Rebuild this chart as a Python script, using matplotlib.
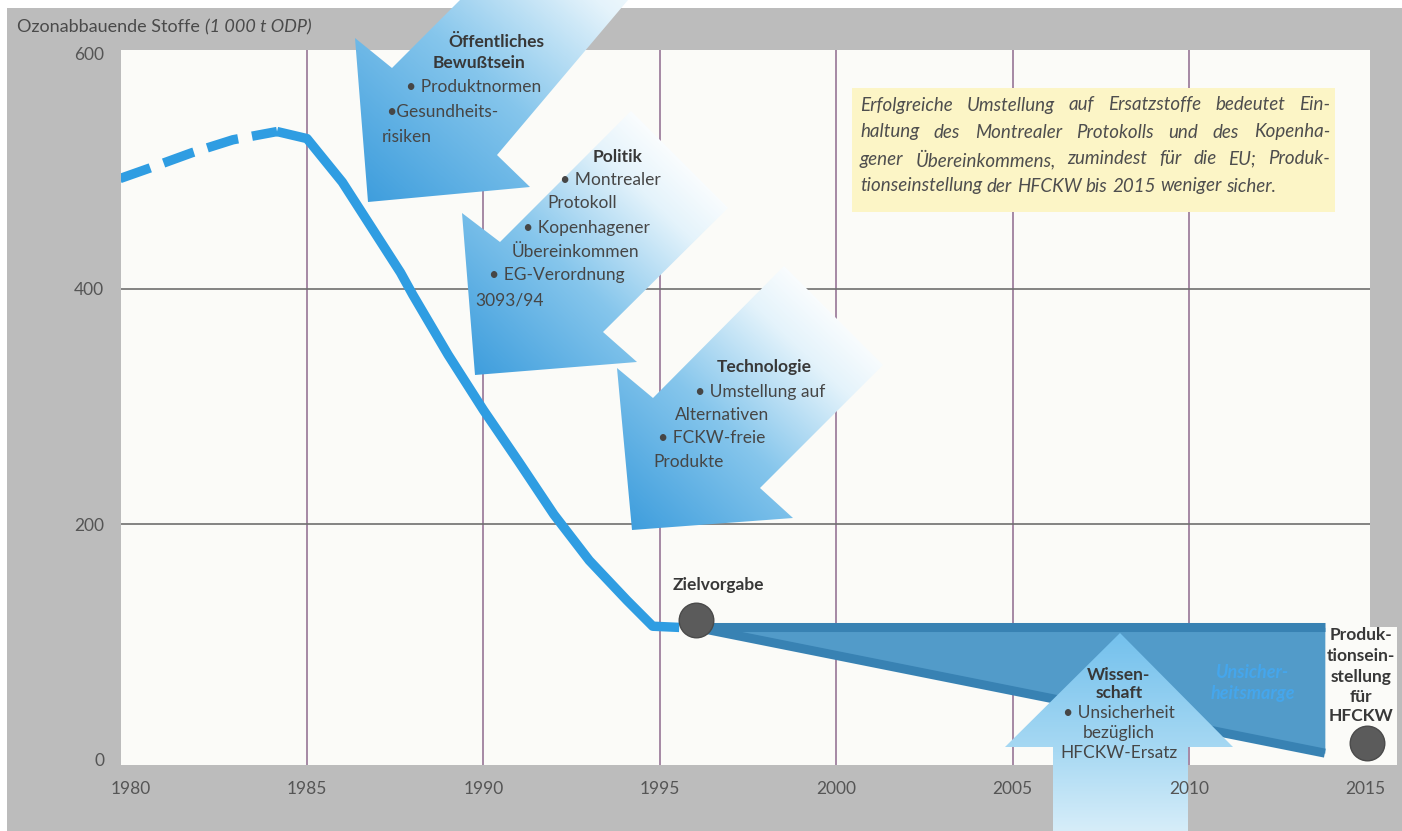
import numpy as np
import matplotlib
matplotlib.use('Agg')
import matplotlib.pyplot as plt
from matplotlib.patches import Polygon, Rectangle
from matplotlib.colors import LinearSegmentedColormap
from matplotlib.transforms import blended_transform_factory

# ---------------- data ----------------
dash_years = [1979.70, 1980.55, 1981.74, 1982.90, 1984.15]
dash_values = [494, 503, 516, 527, 534]
solid_years = [1984.15, 1985.0, 1986.0, 1987.65, 1988.0, 1989.0, 1990.0,
               1991.0, 1992.0, 1993.0, 1994.07, 1994.8, 1995.55]
solid_values = [534, 528, 491, 414, 395, 344, 297, 253, 208, 169, 135, 113, 112]
band_years = [1996.03, 2013.85]
band_upper = [112, 112]
band_lower = [112, 5]
target_year, target_value = 1996.03, 118
phaseout_year, phaseout_value = 2015.04, 14
x_ticks = [1980, 1985, 1990, 1995, 2000, 2005, 2010, 2015]
y_ticks = [0, 200, 400, 600]
v_grid = [1985, 1990, 1995, 2000, 2005, 2010]
h_grid = [200, 400]

FONT = ['Lato', 'DejaVu Sans']
plt.rcParams['font.family'] = FONT

W, H = 1402, 831
fig = plt.figure(figsize=(W / 100, H / 100), dpi=100)
fig.patch.set_facecolor('white')

# background frame (pixel coordinates)
bg = fig.add_axes([0, 0, 1, 1], zorder=0)
bg.set_xlim(0, W); bg.set_ylim(H, 0); bg.axis('off')
bg.add_patch(Rectangle((7, 8), W - 7, H - 8, facecolor='#bcbcbc', edgecolor='none'))
bg.add_patch(Rectangle((1368, 627), 29, 138, facecolor='#fbfbf8', edgecolor='none'))

# main data axes
ax = fig.add_axes([121 / W, (H - 765) / H, (1370 - 121) / W, (765 - 50) / H], zorder=1)
ax.set_facecolor('#fbfbf8')
ax.set_xlim(1979.728, 2015.13)
ax.set_ylim(-5.1, 603.4)
for s in ax.spines.values():
    s.set_visible(False)
ax.set_xticks(x_ticks)
ax.set_xticklabels([])
ax.set_yticks(y_ticks)
ax.set_yticklabels([str(v) for v in y_ticks])
ax.tick_params(axis='x', length=0)
ax.tick_params(axis='y', length=0, pad=12, labelsize=12.5, labelcolor='#555555')

for yr in v_grid:
    ax.axvline(yr, color='#8e6a8e', lw=1.1, zorder=1)
for v in h_grid:
    ax.axhline(v, color='#6f6f6f', lw=1.2, zorder=1)

CURVE = '#2f9de2'
ax.plot(dash_years, dash_values, color=CURVE, lw=6.8, linestyle=(0, (3.4, 1.5)),
        dash_capstyle='butt', zorder=3)
ax.plot(solid_years, solid_values, color=CURVE, lw=6.8, solid_joinstyle='round',
        solid_capstyle='butt', zorder=3)

# uncertainty band
ax.fill_between(band_years, band_lower, band_upper, color='#529bc9', lw=0, zorder=2)
ax.plot(band_years, band_upper, color='#3882b3', lw=6.5, solid_capstyle='butt', zorder=2.5)
ax.plot(band_years, band_lower, color='#3882b3', lw=6.5, solid_capstyle='butt', zorder=2.5)

ax.scatter([target_year], [target_value], s=620, color='#5b5b5b', edgecolor='#4a4a4a',
           lw=1, zorder=4)
ax.scatter([phaseout_year], [phaseout_value], s=620, color='#5b5b5b', edgecolor='#4a4a4a',
           lw=1, zorder=4, clip_on=False)

# foreground overlay (pixel coordinates)
fg = fig.add_axes([0, 0, 1, 1], zorder=2)
fg.set_xlim(0, W); fg.set_ylim(H, 0); fg.axis('off')
fg.patch.set_alpha(0)


def grad_arrow(verts, p0, p1, stops):
    verts = np.array(verts, float)
    xmin, ymin = verts.min(0)
    xmax, ymax = verts.max(0)
    xs = np.arange(xmin, xmax + 1)
    ys = np.arange(ymin, ymax + 1)
    X, Y = np.meshgrid(xs, ys)
    d = np.array(p1, float) - np.array(p0, float)
    t = ((X - p0[0]) * d[0] + (Y - p0[1]) * d[1]) / (d @ d)
    t = np.clip(t, 0, 1)
    cmap = LinearSegmentedColormap.from_list('g', stops)
    im = fg.imshow(cmap(t), extent=(xmin, xmax, ymax, ymin), origin='upper',
                   interpolation='bilinear', aspect='auto', zorder=2)
    poly = Polygon(verts, closed=True, transform=fg.transData, facecolor='none',
                   edgecolor='none')
    fg.add_patch(poly)
    im.set_clip_path(poly)


diag_stops = [(0, '#3f9edd'), (0.45, '#86c6ec'), (0.8, '#e4f3fb'), (1, '#ffffff')]
grad_arrow([(460, 0), (392, 68), (355, 38), (368, 202), (530, 187), (497, 155), (628, 0)],
           (368, 202), (620, -80), diag_stops)
grad_arrow([(631, 111), (500, 242), (462, 213), (475, 375), (637, 362), (603, 332), (728, 208)],
           (475, 375), (690, 150), diag_stops)
grad_arrow([(784, 266), (653, 398), (617, 368), (632, 530), (793, 518), (760, 488), (883, 365)],
           (632, 530), (845, 305), diag_stops)
grad_arrow([(1053, 831), (1053, 747), (1005, 747), (1120, 633), (1233, 747), (1188, 747), (1188, 831)],
           (1120, 633), (1120, 831), [(0, '#74c1ed'), (0.6, '#a8d9f3'), (1, '#d6edf9')])

fg.set_xlim(0, W); fg.set_ylim(H, 0)

# x tick labels drawn above the arrows, positioned through the data axis scale
xlab_tr = blended_transform_factory(ax.transData, fg.transData)
for yr in x_ticks:
    fg.text(yr, 789, str(yr), transform=xlab_tr, ha='center', va='center',
            fontsize=12.5, color='#555555', zorder=6)

TXT = '#464646'
TB = '#383838'
FS = 12.5


def t(x, y, s, bold=False, ha='left', **kw):
    return fg.text(x, y, s, ha=ha, va='center', fontsize=kw.pop('fontsize', FS),
                   fontweight='bold' if bold else 'normal',
                   color=kw.pop('color', TB if bold else TXT), zorder=5, **kw)


renderer = fig.canvas.get_renderer()

# axis title
t1 = t(17, 27, 'Ozonabbauende Stoffe', color='#4a4a4a', fontsize=13)
w1 = t1.get_window_extent(renderer).width
t(17 + w1 + 5, 27, '(1 000 t ODP)', color='#4a4a4a', style='italic', fontsize=13)

# arrow 1
t(448, 42, 'Öffentliches', bold=True)
t(433, 63, 'Bewußtsein', bold=True)
t(406, 87, '• Produktnormen')
t(386, 112, '•Gesundheits-')
t(382, 137, 'risiken')
# arrow 2
t(593, 157, 'Politik', bold=True)
t(560, 180, '• Montrealer')
t(547, 203, 'Protokoll')
t(523, 228, '• Kopenhagener')
t(512, 252, 'Übereinkommen')
t(489, 275, '• EG-Verordnung')
t(475, 300, '3093/94')
# arrow 3
t(717, 367, 'Technologie', bold=True)
t(695, 392, '• Umstellung auf')
t(675, 415, 'Alternativen')
t(658, 438, '• FCKW-freie')
t(653, 462, 'Produkte')
# arrow 4
t(1119, 675, 'Wissen-', bold=True, ha='center')
t(1119, 693, 'schaft', bold=True, ha='center')
t(1119, 713, '• Unsicherheit', ha='center')
t(1119, 733, 'bezüglich', ha='center')
t(1119, 753, 'HFCKW-Ersatz', ha='center')

t(718, 585, 'Zielvorgabe', bold=True, ha='center')
for yy, s in zip([635, 656, 677, 697, 716], ['Produk-', 'tionsein-', 'stellung', 'für', 'HFCKW']):
    t(1361, yy, s, bold=True, ha='center')
t(1253, 672, 'Unsicher-', bold=True, ha='center', style='italic', color='#45a6ec', fontsize=13)
t(1253, 694, 'heitsmarge', bold=True, ha='center', style='italic', color='#45a6ec', fontsize=13)

# yellow note box with justified text
fg.add_patch(Rectangle((852, 88), 483, 124, facecolor='#fcf5c6', edgecolor='none', zorder=1))
note_lines = ['Erfolgreiche Umstellung auf Ersatzstoffe bedeutet Ein-',
              'haltung des Montrealer Protokolls und des Kopenha-',
              'gener Übereinkommens, zumindest für die EU; Produk-',
              'tionseinstellung der HFCKW bis 2015 weniger sicher.']
note_y = [105, 132, 159, 186]
x0, x1 = 860, 1330
for i, (line, yy) in enumerate(zip(note_lines, note_y)):
    words = line.split(' ')
    objs = [fg.text(0, yy, w, ha='left', va='center', fontsize=13.5, style='italic',
                    color='#4e4e4e', zorder=5) for w in words]
    widths = [o.get_window_extent(renderer).width for o in objs]
    if i < len(note_lines) - 1:
        gap = (x1 - x0 - sum(widths)) / (len(words) - 1)
    else:
        gap = objs[0].get_window_extent(renderer).height * 0.27
    xx = x0
    for o, w in zip(objs, widths):
        o.set_x(xx)
        xx += w + gap

fig.savefig('out.png', dpi=100, facecolor='white')
